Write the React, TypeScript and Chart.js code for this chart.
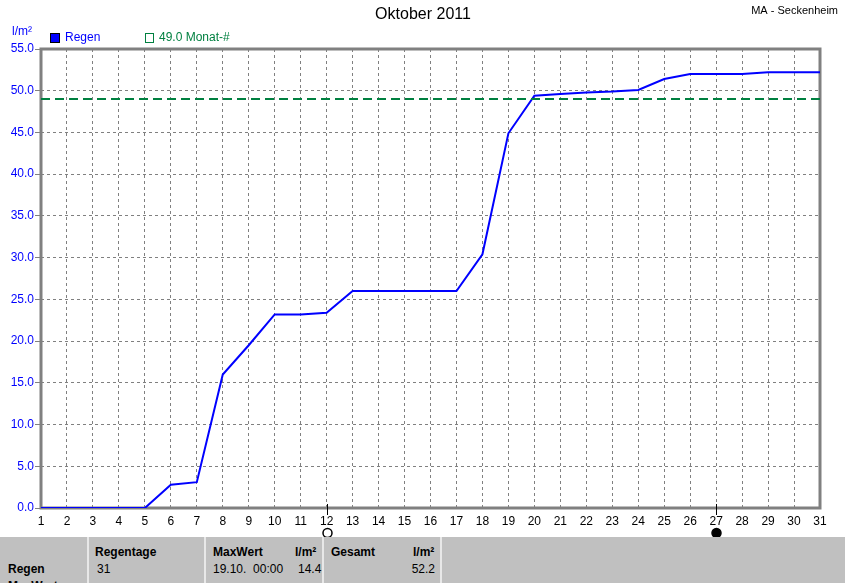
import React, { useEffect, useRef } from "react";
import { Chart, registerables } from "chart.js";

Chart.register(...registerables);

const days: number[] = Array.from({ length: 31 }, (_, i) => i + 1);
const rainCumulative: number[] = [
  0, 0, 0, 0, 0, 2.8, 3.1, 16.0, 19.5, 23.2,
  23.2, 23.4, 26.0, 26.0, 26.0, 26.0, 26.0, 30.4, 44.9, 49.4,
  49.6, 49.8, 49.9, 50.1, 51.4, 52.0, 52.0, 52.0, 52.2, 52.2, 52.2,
];
const monthAvg = 49.0;
const newMoonDays: number[] = [27];
const fullMoonDays: number[] = [12];
const titleText = "Oktober 2011";
const stationText = "MA - Seckenheim";
const unitText = "l/m²";
const legendRain = "Regen";
const legendAvg = "49.0 Monat-#";

const FONT = "'Liberation Sans', Arial, sans-serif";

const decorPlugin = {
  id: "decor",
  beforeDatasetsDraw(chart: any) {
    const { ctx, chartArea } = chart;
    ctx.save();
    ctx.strokeStyle = "#808080";
    ctx.lineWidth = 3;
    ctx.strokeRect(chartArea.left, chartArea.top, chartArea.right - chartArea.left, chartArea.bottom - chartArea.top);
    ctx.restore();
  },
  afterDraw(chart: any) {
    const { ctx, scales } = chart;
    const xs = scales.x;
    const ys = scales.y;
    ctx.save();
    ctx.fillStyle = "#000";
    ctx.font = `16px ${FONT}`;
    ctx.textAlign = "center";
    ctx.textBaseline = "middle";
    ctx.fillText(titleText, 423, 15);
    ctx.font = `11px ${FONT}`;
    ctx.textAlign = "right";
    ctx.fillText(stationText, 838, 11);
    ctx.font = `12px ${FONT}`;
    ctx.fillStyle = "#0000ff";
    ctx.textAlign = "left";
    ctx.fillText(unitText, 12, 32);
    ctx.fillStyle = "#0000ff";
    ctx.fillRect(50, 33, 9, 9);
    ctx.strokeStyle = "#000";
    ctx.lineWidth = 1;
    ctx.strokeRect(50.5, 33.5, 9, 9);
    ctx.fillStyle = "#0000ff";
    ctx.fillText(legendRain, 65, 38);
    ctx.strokeStyle = "#008040";
    ctx.strokeRect(145.5, 33.5, 8, 9);
    ctx.fillStyle = "#008040";
    ctx.fillText(legendAvg, 159, 38);
    const yb = ys.getPixelForValue(0);
    const drawMoon = (d: number, filled: boolean) => {
      const x = Math.round(xs.getPixelForValue(d)) + 0.5;
      ctx.strokeStyle = "#000";
      ctx.lineWidth = 1;
      ctx.beginPath();
      ctx.moveTo(x, yb - 4);
      ctx.lineTo(x, yb + 7);
      ctx.stroke();
      ctx.beginPath();
      ctx.lineWidth = 1.5;
      ctx.arc(x, yb + 25, 4.5, 0, Math.PI * 2);
      if (filled) {
        ctx.fillStyle = "#000";
        ctx.fill();
      }
      ctx.stroke();
    };
    fullMoonDays.forEach((d) => drawMoon(d, false));
    newMoonDays.forEach((d) => drawMoon(d, true));
    ctx.restore();
  },
};

export default function App() {
  const ref = useRef<HTMLCanvasElement | null>(null);
  useEffect(() => {
    document.body.style.margin = "0";
    if (!ref.current) return;
    const chart = new Chart(ref.current, {
      type: "line",
      data: {
        datasets: [
          {
            label: legendAvg,
            data: days.map((d) => ({ x: d, y: monthAvg })),
            borderColor: "#008040",
            borderWidth: 2,
            borderDash: [9, 5],
            pointRadius: 0,
            fill: false,
          },
          {
            label: legendRain,
            data: days.map((d, i) => ({ x: d, y: rainCumulative[i] })),
            borderColor: "#0000ff",
            borderWidth: 2,
            pointRadius: 0,
            tension: 0,
            fill: false,
          },
        ],
      },
      options: {
        animation: false,
        responsive: false,
        devicePixelRatio: 1,
        layout: { padding: { top: 49, right: 25, left: 0, bottom: 0 } },
        plugins: {
          legend: { display: false },
          title: { display: false },
          tooltip: { enabled: false },
        },
        scales: {
          x: {
            type: "linear",
            min: 1,
            max: 31,
            afterFit: (s: any) => { s.height = 29; },
            ticks: {
              stepSize: 1,
              color: "#000",
              font: { family: FONT, size: 12 },
              padding: 6,
              maxRotation: 0,
              autoSkip: false,
              callback: (v: any) => String(v),
            },
            grid: { color: "#808080", lineWidth: 1, drawTicks: false, tickLength: 4 },
            border: { display: false, dash: [3, 3] },
          },
          y: {
            type: "linear",
            min: 0,
            max: 55,
            afterFit: (s: any) => { s.width = 41; },
            ticks: {
              stepSize: 5,
              color: "#0000ff",
              font: { family: FONT, size: 12 },
              padding: 1,
              callback: (v: any) => Number(v).toFixed(1),
            },
            grid: { color: "#808080", lineWidth: 1, tickLength: 6, tickColor: "#808080", tickBorderDash: [] },
            border: { display: false, dash: [3, 3] },
          },
        },
      } as any,
      plugins: [decorPlugin],
    });
    return () => chart.destroy();
  }, []);

  const cell: React.CSSProperties = { position: "absolute", fontFamily: FONT, fontSize: 12, color: "#000", whiteSpace: "nowrap" };
  const bold: React.CSSProperties = { ...cell, fontWeight: "bold" };
  const divider = (x: number): React.CSSProperties => ({ position: "absolute", left: x, top: 0, width: 2, height: 60, background: "#e8e8e8" });

  return (
    <div style={{ position: "fixed", left: 0, top: 0, width: 845, height: 583, background: "#fff", overflow: "hidden" }}>
      <canvas ref={ref} width={845} height={537} style={{ display: "block", width: 845, height: 537 }} />
      <div style={{ position: "absolute", left: 0, top: 537, width: 845, height: 46, background: "#c0c0c0", overflow: "hidden" }}>
        <div style={divider(87)} />
        <div style={divider(204)} />
        <div style={divider(322)} />
        <div style={divider(440)} />
        <div style={{ ...bold, left: 95, top: 8 }}>Regentage</div>
        <div style={{ ...bold, left: 213, top: 8 }}>MaxWert</div>
        <div style={{ ...bold, left: 295, top: 8 }}>l/m²</div>
        <div style={{ ...bold, left: 331, top: 8 }}>Gesamt</div>
        <div style={{ ...bold, left: 413, top: 8 }}>l/m²</div>
        <div style={{ ...bold, left: 8, top: 25 }}>Regen</div>
        <div style={{ ...cell, left: 97, top: 25 }}>31</div>
        <div style={{ ...cell, left: 213, top: 25 }}>19.10.&nbsp;&nbsp;00:00</div>
        <div style={{ ...cell, left: 298, top: 25 }}>14.4</div>
        <div style={{ ...cell, right: 845 - 435, top: 25 }}>52.2</div>
        <div style={{ ...bold, left: 8, top: 42 }}>MaxWert</div>
      </div>
    </div>
  );
}
